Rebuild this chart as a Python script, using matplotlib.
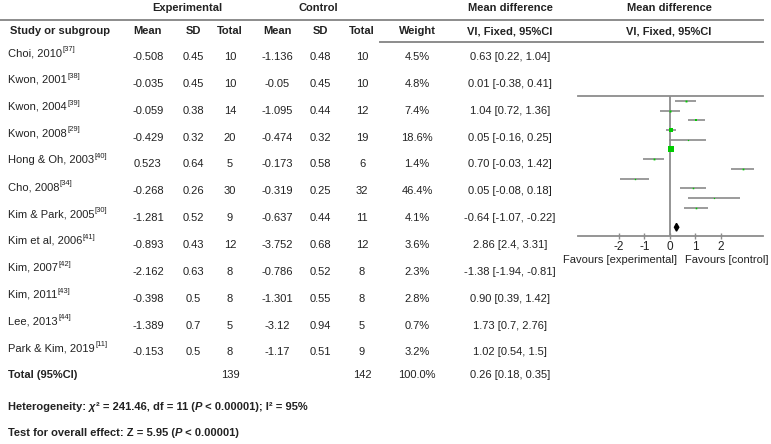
import numpy as np
import matplotlib.pyplot as plt
from matplotlib.patches import Polygon

plt.rcParams['font.family'] = ['Liberation Sans', 'DejaVu Sans']

studies = ['Choi, 2010', 'Kwon, 2001', 'Kwon, 2004', 'Kwon, 2008', 'Hong & Oh, 2003',
           'Cho, 2008', 'Kim & Park, 2005', 'Kim et al, 2006', 'Kim, 2007', 'Kim, 2011',
           'Lee, 2013', 'Park & Kim, 2019']
refs = ['[37]', '[38]', '[39]', '[29]', '[40]', '[34]', '[30]', '[41]', '[42]', '[43]', '[44]', '[11]']
exp_mean = ['-0.508', '-0.035', '-0.059', '-0.429', '0.523', '-0.268', '-1.281', '-0.893',
            '-2.162', '-0.398', '-1.389', '-0.153']
exp_sd = ['0.45', '0.45', '0.38', '0.32', '0.64', '0.26', '0.52', '0.43', '0.63', '0.5', '0.7', '0.5']
exp_n = [10, 10, 14, 20, 5, 30, 9, 12, 8, 8, 5, 8]
ctl_mean = ['-1.136', '-0.05', '-1.095', '-0.474', '-0.173', '-0.319', '-0.637', '-3.752',
            '-0.786', '-1.301', '-3.12', '-1.17']
ctl_sd = ['0.48', '0.45', '0.44', '0.32', '0.58', '0.25', '0.44', '0.68', '0.52', '0.55', '0.94', '0.51']
ctl_n = [10, 10, 12, 19, 6, 32, 11, 12, 8, 8, 5, 9]
weight = [4.5, 4.8, 7.4, 18.6, 1.4, 46.4, 4.1, 3.6, 2.3, 2.8, 0.7, 3.2]
md_text = ['0.63 [0.22, 1.04]', '0.01 [-0.38, 0.41]', '1.04 [0.72, 1.36]', '0.05 [-0.16, 0.25]',
           '0.70 [-0.03, 1.42]', '0.05 [-0.08, 0.18]', '-0.64 [-1.07, -0.22]', '2.86 [2.4, 3.31]',
           '-1.38 [-1.94, -0.81]', '0.90 [0.39, 1.42]', '1.73 [0.7, 2.76]', '1.02 [0.54, 1.5]']
md = [0.63, 0.01, 1.04, 0.05, 0.70, 0.05, -0.64, 2.86, -1.38, 0.90, 1.73, 1.02]
ci_lo = [0.22, -0.38, 0.72, -0.16, -0.03, -0.08, -1.07, 2.4, -1.94, 0.39, 0.7, 0.54]
ci_hi = [1.04, 0.41, 1.36, 0.25, 1.42, 0.18, -0.22, 3.31, -0.81, 1.42, 2.76, 1.5]
total_exp, total_ctl = 139, 142
total_w = '100.0%'
total_md, total_lo, total_hi = 0.26, 0.18, 0.35
xticks = [-2, -1, 0, 1, 2]

txt = '#222222'
linec = '#8c8c8c'
fs = 8

fig = plt.figure(figsize=(7.71, 4.44), dpi=100)
ax = fig.add_axes([0, 0, 1, 1])
ax.set_xlim(0, 771)
ax.set_ylim(444, 0)
ax.axis('off')

# header
for s, x in [('Experimental', 187), ('Control', 318), ('Mean difference', 510), ('Mean difference', 669)]:
    ax.text(x, 8, s, ha='center', va='center', fontsize=fs, fontweight='bold', color=txt)
ax.plot([0, 763], [20, 20], color=linec, lw=1.4)
ax.plot([380, 763], [42, 42], color=linec, lw=1.4)
ax.text(10, 31, 'Study or subgroup', ha='left', va='center', fontsize=fs, fontweight='bold', color=txt)
cols = [148, 193, 230, 277, 320, 362, 417, 510]
heads = ['Mean', 'SD', 'Total', 'Mean', 'SD', 'Total', 'Weight', 'VI, Fixed, 95%CI']
for x, h in zip(cols, heads):
    ax.text(x, 31, h, ha='center', va='center', fontsize=fs, fontweight='bold', color=txt)
ax.text(669, 31, 'VI, Fixed, 95%CI', ha='center', va='center', fontsize=fs, fontweight='bold', color=txt)

# rows
y0, dy = 57, 26.85
for i in range(len(studies)):
    y = y0 + dy * i
    t = ax.text(8, y - 4, studies[i], ha='left', va='center', fontsize=fs, color=txt)
    ax.annotate(refs[i], xy=(1, 1), xycoords=t, xytext=(0.3, 1.5), textcoords='offset points',
                ha='left', va='top', fontsize=5.5, color=txt)
    vals = [exp_mean[i], exp_sd[i], exp_n[i], ctl_mean[i], ctl_sd[i], ctl_n[i],
            f'{weight[i]}%', md_text[i]]
    for x, v in zip(cols, vals):
        ax.text(x, y, str(v), ha='center', va='center', fontsize=fs, color=txt)

ax.text(8, 375, 'Total (95%CI)', ha='left', va='center', fontsize=fs, fontweight='bold', color=txt)
ax.text(230, 375, str(total_exp), ha='center', va='center', fontsize=fs, color=txt)
ax.text(362, 375, str(total_ctl), ha='center', va='center', fontsize=fs, color=txt)
ax.text(417, 375, total_w, ha='center', va='center', fontsize=fs, color=txt)
ax.text(510, 375, f'{total_md:.2f} [{total_lo:.2f}, {total_hi:.2f}]', ha='center', va='center',
        fontsize=fs, color=txt)


def chain(x, y, parts):
    prev = None
    for s, st in parts:
        kw = dict(fontsize=fs, fontweight='bold', fontstyle=st, color=txt)
        if prev is None:
            prev = ax.text(x, y, s, ha='left', va='center', **kw)
        else:
            prev = ax.annotate(s, xy=(1, 0), xycoords=prev, ha='left', va='bottom', **kw)


chain(8, 407, [('Heterogeneity: ', 'normal'), ('χ', 'italic'), ('² = 241.46, df = 11 (', 'normal'),
               ('P', 'italic'), (' < 0.00001); I² = 95%', 'normal')])
chain(8, 433, [('Test for overall effect: Z = 5.95 (', 'normal'), ('P', 'italic'),
               (' < 0.00001)', 'normal')])

# forest plot
fa = fig.add_axes([578 / 771, 1 - 236 / 444, 185 / 771, 140 / 444])
fa.set_xlim(-3.6, 3.65)
fa.set_ylim(14.9, 0.5)
fa.patch.set_alpha(0)
for sp in ['left', 'right']:
    fa.spines[sp].set_visible(False)
for sp in ['top', 'bottom']:
    fa.spines[sp].set_color(linec)
    fa.spines[sp].set_linewidth(1.3)
fa.axvline(0, color=linec, lw=1.3)
rows = np.arange(1, len(md) + 1)
fa.hlines(rows, ci_lo, ci_hi, color='#8a8a8a', lw=1.2)
for r, m, w in zip(rows, md, weight):
    side = max(0.9 * np.sqrt(w), 1.2)
    fa.plot(m, r, marker='s', color='#00cc00', markersize=side * 0.72, markeredgewidth=0)
dia = Polygon([[total_lo, 14], [total_md, 13.6], [total_hi, 14], [total_md, 14.4]],
              closed=True, color='black')
fa.add_patch(dia)
fa.set_xticks(xticks)
fa.set_xticklabels([str(v) for v in xticks], fontsize=fs + 0.5, color=txt)
fa.tick_params(axis='x', direction='inout', length=5, width=1, color=linec, pad=1)
fa.set_yticks([])

ax.text(620, 260, 'Favours [experimental]', ha='center', va='center', fontsize=fs, color=txt)
ax.text(727, 260, 'Favours [control]', ha='center', va='center', fontsize=fs, color=txt)

fig.savefig('out.png', dpi=100)
